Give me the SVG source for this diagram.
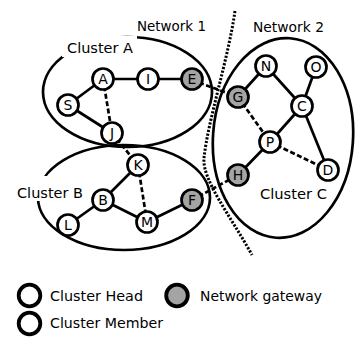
<svg xmlns="http://www.w3.org/2000/svg" width="357" height="337" viewBox="0 0 357 337">
  <style>
    .bg { fill: #ffffff; }
    .cluster { fill: none; stroke: #000; stroke-width: 2.7; }
    .gap { fill: #ffffff; stroke: none; }
    .edge { stroke: #000; stroke-width: 2.7; fill: none; }
    .dash { stroke-dasharray: 5 2.5; }
    .boundary { fill: none; stroke: #000; stroke-width: 3; stroke-dasharray: 2.2 1.6; }
    .node circle { fill: #ffffff; stroke: #000; stroke-width: 2.7; }
    .node.gw circle { fill: #a4a4a4; }
    .node text { font-family: "DejaVu Sans", "Liberation Sans", sans-serif; font-size: 14px; text-anchor: middle; fill: #000; }
    .label { font-family: "DejaVu Sans", "Liberation Sans", sans-serif; font-size: 14px; fill: #000; }
    .key circle { fill: #ffffff; stroke: #000; stroke-width: 3.8; }
    .key.gw circle { fill: #a4a4a4; }
  </style>

  <rect class="bg" x="0" y="0" width="357" height="337"/>

  <!-- cluster outlines -->
  <g id="clusters">
    <ellipse class="cluster" cx="127.5" cy="92" rx="84.5" ry="55"/>
    <ellipse class="cluster" cx="124" cy="197.5" rx="86" ry="52.5"/>
    <ellipse class="cluster" cx="283" cy="138" rx="70" ry="100" transform="rotate(4 283 138)"/>
    <!-- white patches where the cluster names break the outline -->
    <rect class="gap" x="62" y="36" width="75" height="21"/>
    <rect class="gap" x="14" y="176" width="72" height="25"/>
  </g>

  <!-- boundary between the two networks -->
  <path id="network-boundary" class="boundary" d="M235,11 C228,60 208,120 204,158 C202,180 230,215 252,255"/>

  <!-- links -->
  <g id="connectors">
    <line class="edge" x1="68" y1="105" x2="103" y2="79"/>
    <line class="edge" x1="103" y1="79" x2="148" y2="79"/>
    <line class="edge" x1="148" y1="79" x2="192" y2="79"/>
    <line class="edge dash" x1="103" y1="79" x2="112" y2="133"/>
    <line class="edge" x1="68" y1="105" x2="112" y2="133"/>
    <line class="edge dash" x1="112" y1="133" x2="138" y2="165"/>
    <line class="edge" x1="138" y1="165" x2="103" y2="200"/>
    <line class="edge dash" x1="138" y1="165" x2="147" y2="222"/>
    <line class="edge" x1="103" y1="200" x2="68" y2="225"/>
    <line class="edge" x1="103" y1="200" x2="147" y2="222"/>
    <line class="edge" x1="147" y1="222" x2="192" y2="200"/>
    <line class="edge dash" x1="192" y1="80" x2="238" y2="97"/>
    <line class="edge dash" x1="192" y1="200" x2="238" y2="175"/>
    <line class="edge" x1="238" y1="97" x2="266" y2="66"/>
    <line class="edge dash" x1="238" y1="97" x2="270" y2="142"/>
    <line class="edge" x1="266" y1="66" x2="302" y2="106"/>
    <line class="edge" x1="316" y1="67" x2="302" y2="106"/>
    <line class="edge" x1="302" y1="106" x2="270" y2="142"/>
    <line class="edge" x1="302" y1="106" x2="328" y2="170"/>
    <line class="edge dash" x1="270" y1="142" x2="328" y2="170"/>
    <line class="edge" x1="270" y1="142" x2="238" y2="175"/>
  </g>

  <!-- nodes -->
  <g id="node-A" class="node"><circle cx="103" cy="79" r="10.5"/><text x="103" y="84">A</text></g>
  <g id="node-I" class="node"><circle cx="148" cy="79" r="10.5"/><text x="148" y="84">I</text></g>
  <g id="node-E" class="node gw"><circle cx="192" cy="79" r="10.5"/><text x="192" y="84">E</text></g>
  <g id="node-S" class="node"><circle cx="68" cy="105" r="10.5"/><text x="68" y="110">S</text></g>
  <g id="node-J" class="node"><circle cx="112" cy="133" r="10.5"/><text x="112" y="138">J</text></g>
  <g id="node-K" class="node"><circle cx="138" cy="165" r="10.5"/><text x="138" y="170">K</text></g>
  <g id="node-B" class="node"><circle cx="103" cy="200" r="10.5"/><text x="103" y="205">B</text></g>
  <g id="node-L" class="node"><circle cx="68" cy="225" r="10.5"/><text x="68" y="230">L</text></g>
  <g id="node-M" class="node"><circle cx="147" cy="222" r="10.5"/><text x="147" y="227">M</text></g>
  <g id="node-F" class="node gw"><circle cx="192" cy="200" r="10.5"/><text x="192" y="205">F</text></g>
  <g id="node-N" class="node"><circle cx="266" cy="66" r="10.5"/><text x="266" y="71">N</text></g>
  <g id="node-O" class="node"><circle cx="316" cy="67" r="10.5"/><text x="316" y="72">O</text></g>
  <g id="node-G" class="node gw"><circle cx="238" cy="97" r="10.5"/><text x="238" y="102">G</text></g>
  <g id="node-C" class="node"><circle cx="302" cy="106" r="10.5"/><text x="302" y="111">C</text></g>
  <g id="node-P" class="node"><circle cx="270" cy="142" r="10.5"/><text x="270" y="147">P</text></g>
  <g id="node-D" class="node"><circle cx="328" cy="170" r="10.5"/><text x="328" y="175">D</text></g>
  <g id="node-H" class="node gw"><circle cx="238" cy="175" r="10.5"/><text x="238" y="180">H</text></g>

  <!-- area names -->
  <g id="labels">
    <text class="label" x="137" y="31" textLength="69" lengthAdjust="spacingAndGlyphs">Network 1</text>
    <text class="label" x="253" y="32" textLength="71" lengthAdjust="spacingAndGlyphs">Network 2</text>
    <text class="label" x="67" y="53" textLength="66" lengthAdjust="spacingAndGlyphs">Cluster A</text>
    <text class="label" x="17" y="198" textLength="66" lengthAdjust="spacingAndGlyphs">Cluster B</text>
    <text class="label" x="260" y="199" textLength="67" lengthAdjust="spacingAndGlyphs">Cluster C</text>
  </g>

  <!-- key -->
  <g id="legend">
    <g class="key"><circle cx="29.5" cy="295.5" r="10.8"/></g>
    <text class="label" x="50" y="301" textLength="93" lengthAdjust="spacingAndGlyphs">Cluster Head</text>
    <g class="key gw"><circle cx="177" cy="295.5" r="10.8"/></g>
    <text class="label" x="200" y="301" textLength="122" lengthAdjust="spacingAndGlyphs">Network gateway</text>
    <g class="key"><circle cx="29.5" cy="323.5" r="10.8"/></g>
    <text class="label" x="50" y="328" textLength="113" lengthAdjust="spacingAndGlyphs">Cluster Member</text>
  </g>
</svg>
